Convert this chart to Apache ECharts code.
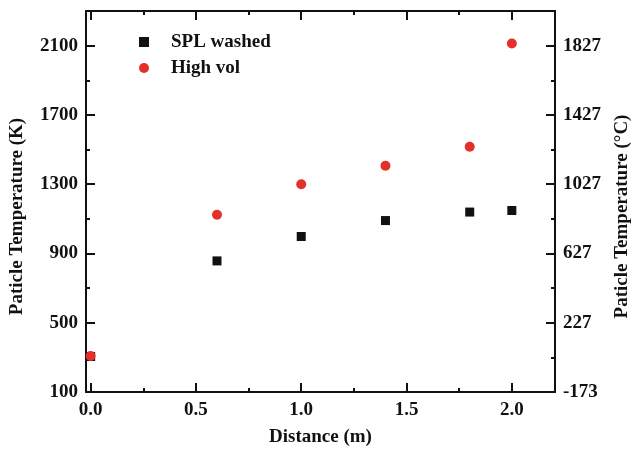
<!DOCTYPE html>
<html><head><meta charset="utf-8">
<script src="https://cdn.jsdelivr.net/npm/echarts@6/dist/echarts.min.js"></script>
<style>html,body{margin:0;padding:0;background:#fff}#c{width:633px;height:454px}</style>
</head><body><div id="c"></div>
<script>
const distance = [0.0, 0.6, 1.0, 1.4, 1.8, 2.0];
const splWashed = [305, 857, 998, 1090, 1139, 1148];
const highVol = [308, 1123, 1300, 1406, 1516, 2112];
const xMajorTicks = [0, 0.5, 1.0, 1.5, 2.0];
const xMinorTicks = [0.25, 0.75, 1.25, 1.75];
const yKTicks = [100, 500, 900, 1300, 1700, 2100];
const yKMinor = [300, 700, 1100, 1500, 1900];
const yCTicks = [-173, 227, 627, 1027, 1427, 1827];
const yCMinor = [27, 427, 827, 1227, 1627];

const FONT = 'Liberation Serif';
const black = '#111';
const red = '#e3302a';
const lab = {fontFamily: FONT, fontWeight: 'bold', fontSize: 19, color: black};

function xAx(pos, ticks, len, showLine, labels) {
  return {
    type: 'value', position: pos, min: -0.022, max: 2.205,
    axisLine: {show: showLine, onZero: false, lineStyle: {color: black, width: 2}},
    axisTick: {show: true, inside: true, length: len, customValues: ticks, lineStyle: {color: black, width: 2}},
    axisLabel: labels ? Object.assign({show: true, margin: 9, customValues: ticks, formatter: v => v.toFixed(1)}, lab) : {show: false},
    splitLine: {show: false}
  };
}
function yAx(pos, min, max, ticks, len, showLine, labels) {
  return {
    type: 'value', position: pos, min: min, max: max,
    axisLine: {show: showLine, onZero: false, lineStyle: {color: black, width: 2}},
    axisTick: {show: true, inside: true, length: len, customValues: ticks, lineStyle: {color: black, width: 2}},
    axisLabel: labels ? Object.assign({show: true, margin: 8, customValues: ticks, formatter: v => String(v)}, lab) : {show: false},
    splitLine: {show: false}
  };
}

const xMain = xAx('bottom', xMajorTicks, 9, true, true);
xMain.name = 'Distance (m)';
xMain.nameLocation = 'middle';
xMain.nameGap = 36;
xMain.nameTextStyle = Object.assign({}, lab);

const yMain = yAx('left', 100, 2300, yKTicks, 9, true, true);
yMain.name = 'Paticle Temperature (K)';
yMain.nameLocation = 'middle';
yMain.nameRotate = 90;
yMain.nameGap = 59;
yMain.nameTextStyle = Object.assign({padding: [0, 30, 0, 0]}, lab);

const yRight = yAx('right', -173, 2027, yCTicks, 9, true, true);
yRight.name = 'Paticle Temperature (°C)';
yRight.nameLocation = 'middle';
yRight.nameRotate = 90;
yRight.nameGap = 58;
yRight.nameTextStyle = Object.assign({padding: [0, 30, 0, 0]}, lab);

const chart = echarts.init(document.getElementById('c'), null, {renderer: 'canvas'});
chart.setOption({
  animation: false,
  backgroundColor: '#fff',
  grid: {left: 86, right: 78, top: 11, bottom: 62, containLabel: false, outerBoundsMode: 'none'},
  xAxis: [
    xMain,
    xAx('bottom', xMinorTicks, 4, false, false),
    xAx('top', xMajorTicks, 9, true, false),
    xAx('top', xMinorTicks, 4, false, false)
  ],
  yAxis: [
    yMain,
    yAx('left', 100, 2300, yKMinor, 4, false, false),
    yRight,
    yAx('right', -173, 2027, yCMinor, 4, false, false)
  ],
  legend: {
    orient: 'vertical', left: 134, top: 27, itemWidth: 10, itemHeight: 10, itemGap: 6,
    textStyle: Object.assign({padding: [0, 0, 0, 17], lineHeight: 20}, lab),
    data: [{name: 'SPL washed', icon: 'rect'}, {name: 'High vol', icon: 'circle'}]
  },
  series: [
    {name: 'SPL washed', type: 'scatter', symbol: 'rect', symbolSize: 9,
     itemStyle: {color: black, opacity: 1}, data: distance.map((d, i) => [d, splWashed[i]])},
    {name: 'High vol', type: 'scatter', symbol: 'circle', symbolSize: 10,
     itemStyle: {color: red, opacity: 1}, data: distance.map((d, i) => [d, highVol[i]])}
  ]
});
</script></body></html>
